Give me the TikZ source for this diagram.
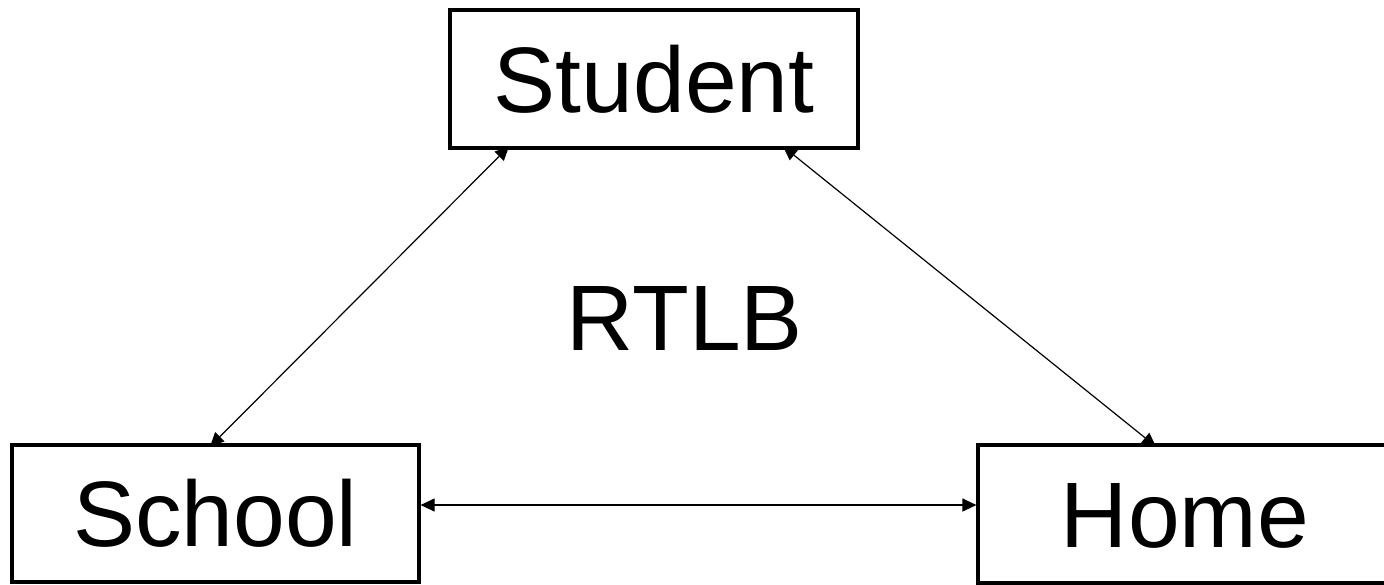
\documentclass[tikz,border=0pt]{standalone}
\usepackage{fontspec}
\setmainfont{Liberation Sans}
\usetikzlibrary{arrows.meta}
\begin{document}
\begin{tikzpicture}[x=0.5pt,y=-0.5pt,
  box/.style={draw, line width=1.7pt, inner sep=0pt, outer sep=0pt,
    font=\fontsize{46.5}{50}\selectfont, text height=33.3pt, text depth=0pt},
  link/.style={line width=0.6pt, {Triangle[length=7pt,width=6.5pt]}-{Triangle[length=7pt,width=6.5pt]}},
  lbl/.style={font=\fontsize{46.5}{50}\selectfont, inner sep=0pt, text height=33.3pt, text depth=0pt}]
\path[use as bounding box, clip] (0,0) rectangle (1384,584);
\node[box, minimum width=204pt, minimum height=69pt] (student) at (654,79) {Student};
\node[box, minimum width=203.5pt, minimum height=68.5pt] (school) at (215.5,513.5) {School};
\node[box, minimum width=207pt, minimum height=69pt] (home) at (1185,514) {Home};
\node[lbl] (rtlb) at (685,317) {RTLB};
\draw[link] ([xshift=29.5pt,yshift=0.8pt]student.south west) -- ([xshift=99pt,yshift=-0.8pt]school.north west);
\draw[link] ([xshift=-37.5pt,yshift=0.8pt]student.south east) -- ([xshift=89pt,yshift=-0.8pt]home.north west);
\draw[link] ([xshift=0.8pt,yshift=4.25pt]school.east) -- ([xshift=-0.8pt,yshift=4.5pt]home.west);
\end{tikzpicture}
\end{document}
